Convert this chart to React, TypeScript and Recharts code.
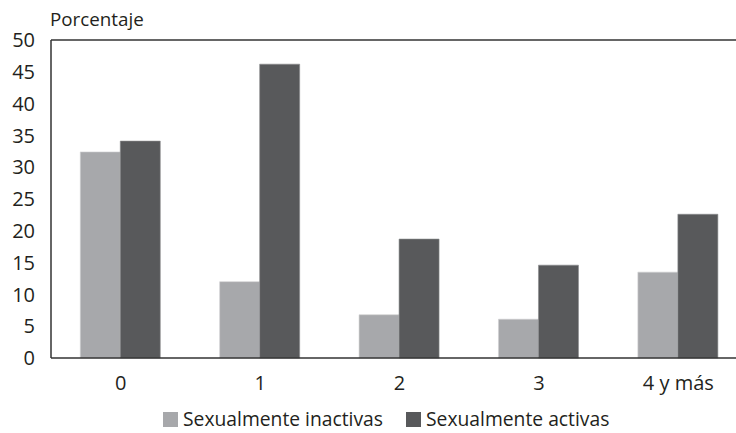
import React from 'react';
import { BarChart, Bar, XAxis, YAxis, Legend, ReferenceLine } from 'recharts';

const categories = ['0', '1', '2', '3', '4 y más'];
const inactivas = [32.4, 12.0, 6.8, 6.1, 13.5];
const activas = [34.1, 46.2, 18.7, 14.6, 22.6];
const yTicks = [0, 5, 10, 15, 20, 25, 30, 35, 40, 45, 50];

const data = categories.map((c, i) => ({
  name: c,
  inactivas: inactivas[i],
  activas: activas[i]
}));

const FONT = '"Open Sans", sans-serif';
const LIGHT = '#a7a8ab';
const DARK = '#58595b';

function LegendContent() {
  const items = [
    { label: 'Sexualmente inactivas', color: LIGHT },
    { label: 'Sexualmente activas', color: DARK }
  ];
  return <div style={{ display: 'flex', alignItems: 'center', height: 18, lineHeight: '18px', fontFamily: FONT, fontSize: 19.3, color: '#231f20' }}>
      {items.map((it, i) => <div key={it.label} style={{ display: 'flex', alignItems: 'center', marginLeft: i ? 23 : 0 }}>
          <span style={{ display: 'inline-block', width: 15, height: 15, background: it.color, marginRight: 5 }} />
          <span style={{ lineHeight: '18px' }}>{it.label}</span>
        </div>)}
    </div>;
}

export default function App() {
  return <div style={{ position: 'fixed', left: 0, top: 0, width: 736, height: 433, overflow: 'hidden', background: '#fff' }}>
      <div style={{ position: 'absolute', left: 50, top: 6, fontFamily: FONT, fontSize: 18.8, color: '#231f20' }}>
        Porcentaje
      </div>
      <BarChart width={750} height={433} data={data} barGap={0} barCategoryGap="21%"
        margin={{ top: 40, right: 2, left: 0, bottom: 0 }}>
        <YAxis domain={[0, 50]} ticks={yTicks} width={51} axisLine={{ stroke: '#333', strokeWidth: 1.5 }}
          tickLine={false} tickMargin={10} interval={0}
          tick={{ fill: '#231f20', fontSize: 20, fontFamily: FONT }} />
        <XAxis dataKey="name" height={57} axisLine={{ stroke: '#333', strokeWidth: 1.5 }} tickLine={false}
          tickMargin={12} tick={{ fill: '#231f20', fontSize: 20, fontFamily: FONT }} />
        <ReferenceLine y={50} stroke="#333" strokeWidth={1.5} />
        <Legend verticalAlign="bottom" content={<LegendContent />}
          wrapperStyle={{ left: 163, top: 410, bottom: 'auto', width: 'auto', height: 18 }} />
        <Bar dataKey="inactivas" fill={LIGHT} stroke="#d0d0d2" strokeWidth={0.6} isAnimationActive={false} />
        <Bar dataKey="activas" fill={DARK} stroke="#8a8b8d" strokeWidth={0.6} isAnimationActive={false} />
      </BarChart>
    </div>;
}
